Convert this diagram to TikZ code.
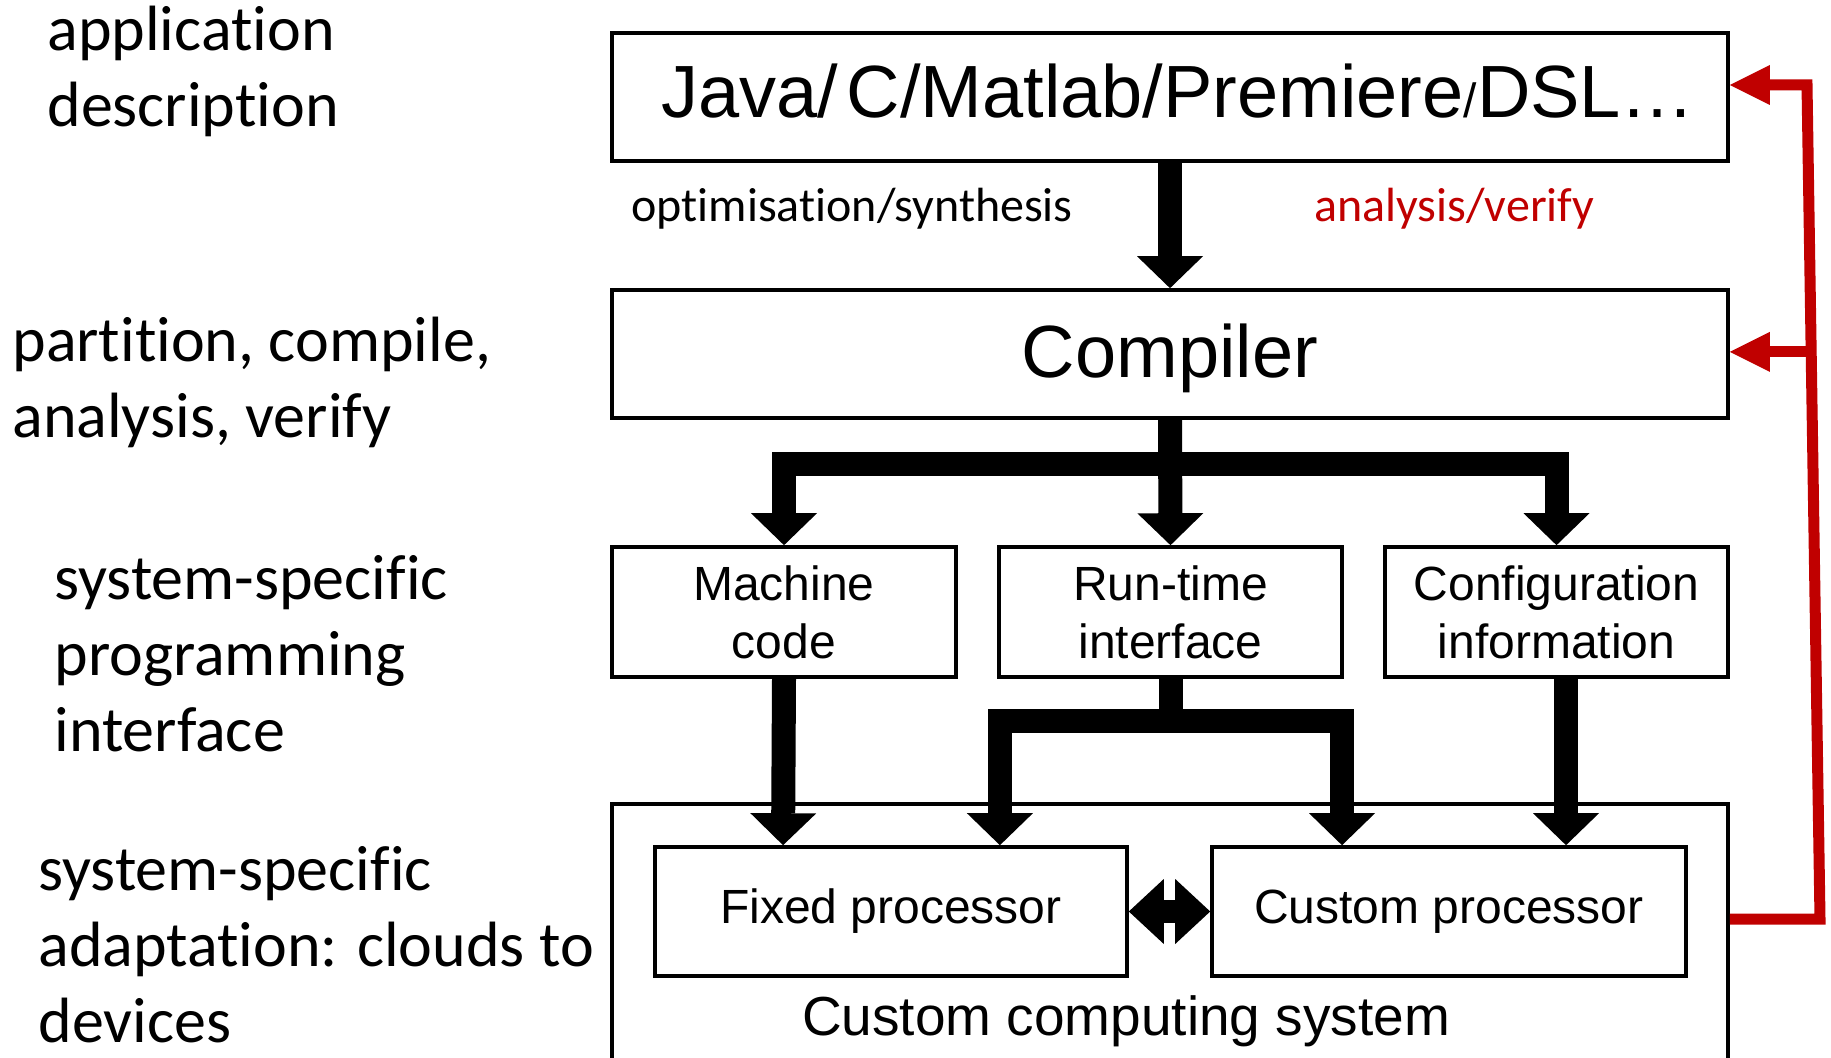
\documentclass[tikz,border=0pt]{standalone}
\usepackage{fontspec}
\setmainfont{Liberation Sans}
\newfontfamily\calibrifont[Ligatures={NoCommon}]{Carlito}
\usetikzlibrary{arrows.meta,calc}
\definecolor{fbred}{RGB}{192,0,0}

\begin{document}
\begin{tikzpicture}[x=0.5pt,y=-0.5pt,
  box/.style={draw, line width=1.8pt, rectangle, inner sep=0pt, align=center},
  bigtext/.style={font=\fontsize{37}{44}\selectfont},
  midtext/.style={font=\fontsize{24}{29}\selectfont},
  sidetext/.style={font=\calibrifont\fontsize{32}{38}\selectfont, anchor=north west, inner sep=0pt, align=left},
  flowtext/.style={font=\calibrifont\fontsize{24}{29}\selectfont, anchor=base west, inner sep=0pt},
  bigarrow/.style={line width=12pt, line join=miter, -{Triangle[length=16pt,width=33pt,line width=0pt]}},
  dblarrow/.style={line width=11.5pt, {Triangle[length=17.5pt,width=32.5pt,line width=0pt]}-{Triangle[length=17.5pt,width=32.5pt,line width=0pt]}},
  feedback/.style={fbred, line width=5.5pt, line join=miter, -{Triangle[length=20pt,width=20pt,line width=0pt]}}
]
\useasboundingbox (0,0) rectangle (1831,1058);
\clip (0,0) rectangle (1831,1058);

% level descriptions on the left
\node[sidetext] (lapp) at (47,6) {application\\description};
\node[sidetext] (lpart) at (12,317) {partition, compile,\\analysis, verify};
\node[sidetext] (lapi) at (54,555) {system-specific\\programming\\interface};
\node[sidetext] (ladapt) at (38,846) {system-specific\\adaptation: clouds to\\devices};

% source languages and compiler
\node[box, bigtext, minimum width=558pt, minimum height=64pt, text height=26.5pt, text depth=5.5pt] (src) at (1170,97)
  {\hspace*{8pt}Java/\hspace{0.12em}C/Matlab/Premiere{\fontsize{24}{24}\selectfont/}DSL…};
\node[box, bigtext, minimum width=558pt, minimum height=64pt, text height=26.5pt, text depth=2.5pt] (comp) at (1170,354) {Compiler};

\node[flowtext] (opt) at (631,222) {optimisation/synthesis};
\node[flowtext, text=fbred] (ana) at (1314,222) {analysis/verify};

% compiler outputs
\node[box, midtext, minimum width=172pt, minimum height=65pt] (mc) at (784,612) {Machine\\code};
\node[box, midtext, minimum width=171.5pt, minimum height=65pt] (rt) at (1170.5,612) {Run-time\\interface};
\node[box, midtext, minimum width=171.5pt, minimum height=65pt] (cfg) at (1556.5,612) {Configuration\\information};

% target system
\node[draw, line width=1.8pt, rectangle, inner sep=0pt, minimum width=558pt, minimum height=148pt] (ccs) at (1170,952) {};
\node[font=\fontsize{27.5}{33}\selectfont, anchor=base, inner sep=0pt] (ccslabel) at (1126,1035) {Custom computing system};
\node[box, midtext, minimum width=236pt, minimum height=64.5pt] (fp) at (891,911.5) {Fixed processor};
\node[box, midtext, minimum width=237pt, minimum height=64.5pt] (cp) at (1449,911.5) {Custom processor};

% entry points on the processors
\coordinate (fpA) at ($(fp.north west)!0.273!(fp.north east)$);
\coordinate (fpB) at ($(fp.north west)!0.729!(fp.north east)$);
\coordinate (cpA) at ($(cp.north west)!0.276!(cp.north east)$);
\coordinate (cpB) at ($(cp.north west)!0.745!(cp.north east)$);

% main flow
\draw[bigarrow] (src.south) -- (comp.north);
\draw[bigarrow] (comp.south) -- ++(0,44) -| (mc.north);
\draw[bigarrow] (comp.south) -- ++(0,44) -| (cfg.north);
\draw[bigarrow] (comp.south) -- (rt.north);

\draw[bigarrow] (mc.south) -- (fpA);
\draw[bigarrow] (rt.south) -- ++(0,42) -| (fpB);
\draw[bigarrow] (rt.south) -- ++(0,42) -| (cpA);
\draw[bigarrow] (cfg.south -| cpB) -- (cpB);

\draw[dblarrow] (fp.east) -- (cp.west);

% feedback from the system back to the description and the compiler
\coordinate (fbLow) at (1820,919);
\coordinate (fbHigh) at (1807,85);
\coordinate (fbMid) at ($(fbLow)!0.68!(fbHigh)$);
\draw[feedback] (fbLow -| ccs.east) -- (fbLow) -- (fbHigh) -- (fbHigh -| src.east);
\draw[feedback] (fbMid) -- (fbMid -| comp.east);
\end{tikzpicture}
\end{document}
